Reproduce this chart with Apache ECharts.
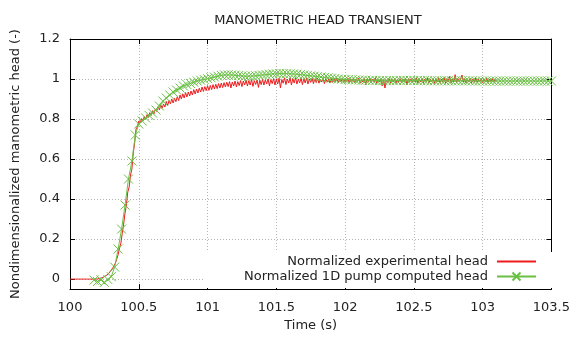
<!DOCTYPE html>
<html>
<head>
<meta charset="utf-8">
<script src="https://cdn.jsdelivr.net/npm/echarts@6/dist/echarts.min.js"></script>
<style>
html,body{margin:0;padding:0;background:#fff;}
#chart{width:573px;height:337px;}
</style>
</head>
<body>
<div id="chart"></div>
<script>
// ---- Data ----
const titleText = 'MANOMETRIC HEAD TRANSIENT';
const xAxisName = 'Time (s)';
const yAxisName = 'Nondimensionalized manometric head (-)';
const expName = 'Normalized experimental head';
const compName = 'Normalized 1D pump computed head';

const xTicks = [100, 100.5, 101, 101.5, 102, 102.5, 103, 103.5];
const yTicks = [0, 0.2, 0.4, 0.6, 0.8, 1, 1.2];

// experimental head, sampled every 0.01 s from 100.00 s
const expStart = 100.0;
const expStep = 0.01;
const expHead = [
  0,0,0,0,0,0,0,0,0,0,
  0,0,0,0,0,0,0,0,0,0.001,
  0.001,0.003,0.004,0.007,0.009,0.012,0.016,0.021,0.027,0.036,
  0.045,0.055,0.066,0.08,0.1,0.122,0.155,0.18,0.228,0.275,
  0.33,0.37,0.435,0.46,0.52,0.55,0.63,0.68,0.75,0.762,
  0.79,0.78,0.802,0.79,0.812,0.8,0.822,0.808,0.832,0.818,
  0.842,0.826,0.85,0.838,0.862,0.846,0.87,0.854,0.875,0.86,
  0.888,0.868,0.892,0.876,0.9,0.88,0.903,0.887,0.912,0.892,
  0.92,0.9,0.926,0.905,0.932,0.91,0.935,0.915,0.94,0.92,
  0.947,0.925,0.95,0.93,0.954,0.935,0.96,0.938,0.962,0.942,
  0.967,0.943,0.968,0.947,0.972,0.95,0.974,0.952,0.977,0.955,
  0.98,0.957,0.982,0.96,0.984,0.962,0.987,0.955,0.985,0.965,
  0.99,0.96,0.987,0.967,0.992,0.962,0.99,0.97,0.994,0.965,
  0.992,0.97,0.997,0.963,0.992,0.973,0.995,0.958,0.994,0.972,
  0.998,0.97,0.996,0.975,1.0,0.966,0.997,0.977,1.002,0.97,
  1.0,0.975,1.004,0.955,0.998,0.979,1.006,0.972,1.0,0.98,
  1.005,0.97,1.002,0.98,1.007,0.975,1.0,0.981,1.004,0.972,
  1.002,0.98,1.005,0.975,1.0,0.983,1.004,0.977,1.001,0.982,
  1.004,0.979,1.0,0.985,1.005,0.977,1.002,0.985,0.999,0.98,
  1.003,0.983,1.0,0.987,1.005,0.981,1.001,0.987,1.004,0.983,
  1.0,0.985,1.005,0.981,0.999,0.987,1.003,0.98,1.0,0.988,
  1.004,0.979,0.998,0.985,1.002,0.972,0.999,0.986,1.003,0.981,
  0.999,0.985,1.004,0.977,0.998,0.985,1.001,0.966,0.997,0.955,
  0.996,0.983,1.002,0.98,0.999,0.985,1.003,0.979,0.998,0.986,
  1.002,0.981,0.999,0.985,1.004,0.971,0.998,0.985,1.002,0.98,
  0.999,0.986,1.004,0.979,1.0,0.985,1.003,0.981,0.999,0.987,
  1.004,0.98,0.998,0.986,1.002,0.978,1.0,0.985,1.006,0.981,
  1.0,0.985,1.008,0.979,1.001,0.985,1.014,0.981,1.0,0.986,
  1.022,0.983,1.002,0.987,1.0,1.02,0.985,1.002,0.98,0.999,
  0.985,1.004,0.981,1.0,0.986,1.005,0.983,0.999,0.987,1.003,
  0.982,1.0,0.986,1.004,0.983,0.999,0.987,1.002,0.984,0.998,0.988
];

// computed head, sampled every 0.025 s from 100.175 s
const compStart = 100.175;
const compStep = 0.025;
const compHead = [
  -0.005,-0.012,-0.004,-0.016,-0.002,0.012,0.06,0.15,0.25,0.37,
  0.5,0.59,0.72,0.775,0.79,0.805,0.818,0.83,0.845,0.865,
  0.89,0.905,0.92,0.935,0.945,0.955,0.965,0.972,0.978,0.984,
  0.99,0.994,0.998,1.002,1.006,1.01,1.014,1.018,1.02,1.021,
  1.02,1.019,1.017,1.015,1.014,1.014,1.015,1.016,1.018,1.02,
  1.022,1.024,1.025,1.026,1.027,1.027,1.027,1.026,1.025,1.024,
  1.022,1.02,1.018,1.016,1.014,1.012,1.01,1.008,1.006,1.004,
  1.002,1.0,0.999,0.998,0.997,0.996,0.995,
  0.995,0.994,0.994,0.993,0.993,0.993,0.992,0.992,0.992,0.992,
  0.992,0.992,0.993,0.993,0.993,0.993,0.993,0.992,0.992,0.992,
  0.992,0.991,0.991,0.991,0.991,0.991,0.991,0.991,0.991,0.991,
  0.991,0.991,0.991,0.991,0.99,0.99,0.99,0.99,0.99,0.99,
  0.99,0.99,0.99,0.99,0.99,0.99,0.99,0.99,0.99,0.99,
  0.99,0.99,0.99,0.99,0.99,0.99,0.99
];

// ---- Build ----
const expData = expHead.map((v, i) => [+(expStart + i * expStep).toFixed(3), v]);
const compData = compHead.map((v, i) => [+(compStart + i * compStep).toFixed(3), v]);

const FONT = 'DejaVu Sans';
const FS = 13;
const RED = '#ee1c1c';
const GREEN = '#6abf45';
const TXT = '#222';
const X_PATH = 'path://M0,0L10,10M0,10L10,0';

const chart = echarts.init(document.getElementById('chart'), null, {renderer: 'canvas'});
const gridLine = {show: true, lineStyle: {color: '#b4b4b4', width: 1, type: [1, 2]}};
const option = {
  animation: false,
  backgroundColor: '#fff',
  textStyle: {fontFamily: FONT},
  title: {
    text: titleText, left: 313, top: 9, textAlign: 'center',
    textStyle: {fontFamily: FONT, fontSize: FS, fontWeight: 'normal', color: TXT}
  },
  grid: {left: 70, right: 20, top: 39, bottom: 45, show: false},
  legend: [
    {
      data: [expName], orient: 'vertical', right: 16, top: 252, align: 'right',
      itemWidth: 39, itemHeight: 10, backgroundColor: '#fff',
      padding: [3, 20, 1, 82],
      itemStyle: {color: 'rgba(0,0,0,0)', borderWidth: 0},
      textStyle: {fontFamily: FONT, fontSize: FS, color: TXT, padding: [0, 4, 0, 0]}
    },
    {
      data: [compName], orient: 'vertical', right: 16, top: 269, align: 'right',
      itemWidth: 39, itemHeight: 10, backgroundColor: '#fff',
      padding: [1, 20, 5, 40],
      textStyle: {fontFamily: FONT, fontSize: FS, color: TXT, padding: [0, 4, 0, 0]}
    }
  ],
  xAxis: [
    {
      type: 'value', min: 100, max: 103.5, interval: 0.5, position: 'bottom',
      name: xAxisName, nameLocation: 'middle', nameGap: 28,
      nameTextStyle: {fontFamily: FONT, fontSize: FS, color: TXT},
      axisLine: {show: true, onZero: false, lineStyle: {color: '#000', width: 1}},
      axisTick: {show: true, inside: true, length: 5, lineStyle: {color: '#000'}},
      axisLabel: {fontFamily: FONT, fontSize: FS, color: TXT, margin: 12},
      splitLine: gridLine
    },
    {
      type: 'value', min: 100, max: 103.5, interval: 0.5, position: 'top',
      axisLine: {show: true, onZero: false, lineStyle: {color: '#000', width: 1}},
      axisTick: {show: true, inside: true, length: 5, lineStyle: {color: '#000'}},
      axisLabel: {show: false}, splitLine: {show: false}
    }
  ],
  yAxis: [
    {
      type: 'value', min: -0.05, max: 1.2, position: 'left',
      name: yAxisName, nameLocation: 'middle', nameGap: 48,
      nameTextStyle: {fontFamily: FONT, fontSize: FS, color: TXT},
      axisLine: {show: true, onZero: false, lineStyle: {color: '#000', width: 1}},
      axisTick: {show: true, inside: true, length: 5, customValues: yTicks, lineStyle: {color: '#000'}},
      axisLabel: {fontFamily: FONT, fontSize: FS, color: TXT, margin: 10, customValues: yTicks},
      splitLine: gridLine
    },
    {
      type: 'value', min: -0.05, max: 1.2, position: 'right',
      axisLine: {show: true, onZero: false, lineStyle: {color: '#000', width: 1}},
      axisTick: {show: true, inside: true, length: 5, customValues: yTicks, lineStyle: {color: '#000'}},
      axisLabel: {show: false, customValues: yTicks}, splitLine: {show: false}
    }
  ],
  series: [
    {
      name: expName, type: 'line', data: expData, showSymbol: false, symbol: 'none',
      lineStyle: {color: RED, width: 1}, itemStyle: {color: RED}, z: 2
    },
    {
      name: compName, type: 'line', data: compData, symbol: X_PATH, symbolSize: 9,
      showSymbol: true,
      lineStyle: {color: GREEN, width: 1},
      itemStyle: {color: 'rgba(0,0,0,0)', borderColor: GREEN, borderWidth: 1},
      z: 3
    }
  ]
};
chart.setOption(option);
</script>
</body>
</html>
